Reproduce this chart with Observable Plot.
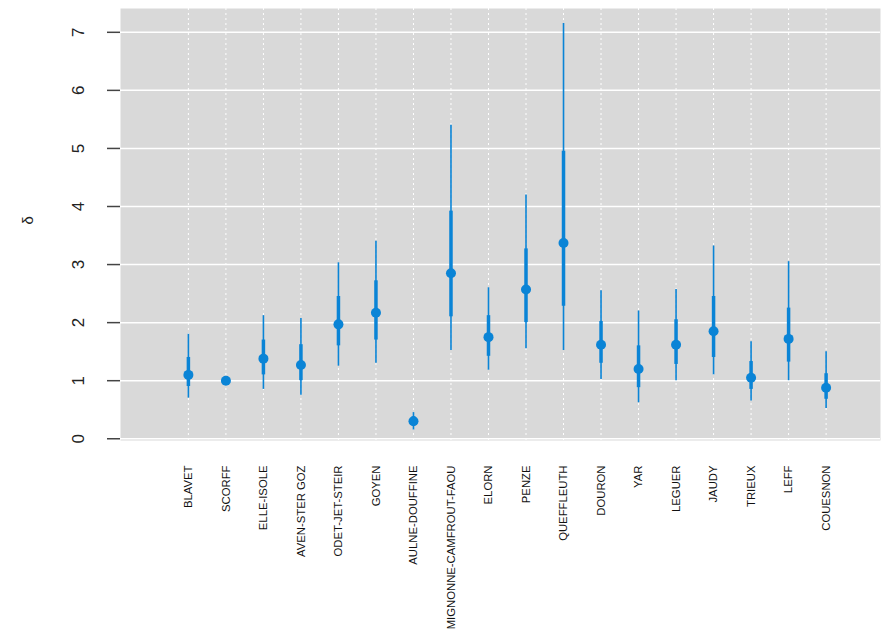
<!DOCTYPE html>
<html><head><meta charset="utf-8">
<script src="https://cdn.jsdelivr.net/npm/d3@7"></script>
<script src="https://cdn.jsdelivr.net/npm/@observablehq/plot@0.6"></script>
<style>body{margin:0;background:#fff}</style>
</head><body><div id="chart"></div>
<script>
const rivieres = ["BLAVET","SCORFF","ELLE-ISOLE","AVEN-STER GOZ","ODET-JET-STEIR","GOYEN","AULNE-DOUFFINE","MIGNONNE-CAMFROUT-FAOU","ELORN","PENZE","QUEFFLEUTH","DOURON","YAR","LEGUER","JAUDY","TRIEUX","LEFF","COUESNON"]
const moyenne = [1.1,1.0,1.38,1.27,1.97,2.17,0.3,2.85,1.75,2.57,3.37,1.62,1.2,1.62,1.85,1.05,1.72,0.88]
const bas50 = [0.9,0.97,1.1,1.0,1.6,1.7,0.22,2.1,1.42,2.0,2.28,1.3,0.88,1.28,1.4,0.85,1.32,0.68]
const haut50 = [1.4,1.03,1.7,1.62,2.45,2.72,0.38,3.92,2.12,3.27,4.95,2.02,1.6,2.05,2.45,1.33,2.25,1.12]
const bas95 = [0.7,0.95,0.85,0.75,1.25,1.3,0.15,1.52,1.18,1.55,1.52,1.02,0.62,1.0,1.1,0.65,1.0,0.52]
const haut95 = [1.8,1.05,2.12,2.07,3.03,3.4,0.45,5.4,2.6,4.2,7.15,2.55,2.2,2.57,3.32,1.67,3.05,1.5]
const yTicks = [0, 1, 2, 3, 4, 5, 6, 7]

const data = rivieres.map((r, i) => ({i: i + 1, r, m: moyenne[i], b50: bas50[i], h50: haut50[i], b95: bas95[i], h95: haut95[i]}))
const bleu = "#0a84d6"

let chart = Plot.plot({
  width: 881, height: 637,
  marginLeft: 120, marginRight: 1, marginTop: 8, marginBottom: 197,
  x: {domain: [-0.81, 19.45], axis: null},
  y: {domain: [-0.03, 7.41], axis: null},
  style: {fontFamily: "Liberation Sans, sans-serif"},
  marks: [
    Plot.frame({fill: "#d9d9d9", stroke: null}),
    Plot.ruleY(yTicks, {stroke: "white", strokeWidth: 1.5}),
    Plot.ruleX(data, {x: "i", stroke: "white", strokeDasharray: "2,3", strokeWidth: 1}),
    Plot.axisY({ticks: yTicks, tickSize: 13, text: null, stroke: "#444", strokeWidth: 1.5, label: null}),
    Plot.text(yTicks, {x: -0.81, y: d => d, text: d => String(d), dx: -42, rotate: -90, fontSize: 17, fill: "#222"}),
    Plot.text(["δ"], {frameAnchor: "left", dx: -92, fontSize: 15, rotate: -90, fill: "#222"}),
    Plot.ruleX(data, {x: "i", y1: "b95", y2: "h95", stroke: bleu, strokeWidth: 1.6}),
    Plot.ruleX(data, {x: "i", y1: "b50", y2: "h50", stroke: bleu, strokeWidth: 3.5}),
    Plot.dot(data, {x: "i", y: "m", r: 5, fill: bleu, stroke: null}),
    Plot.text(data, {x: "i", y: -0.03, text: "r", rotate: -90, textAnchor: "end", dy: 25, fontSize: 11.3, fill: "#111", fontStretch: "condensed"})
  ]
})
d3.select("#chart").append(() => chart)
</script>
</body></html>
